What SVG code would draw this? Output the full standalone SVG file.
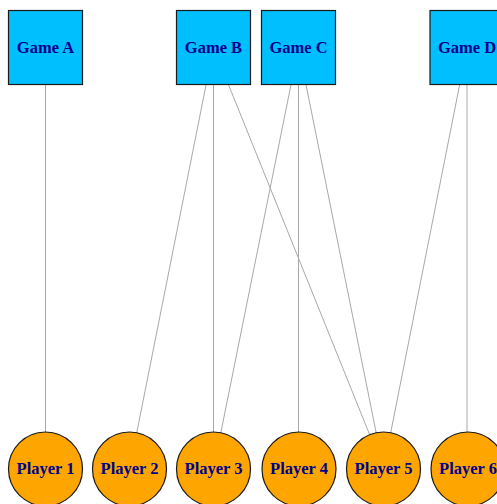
<svg xmlns="http://www.w3.org/2000/svg" width="497" height="504" viewBox="0 0 497 504">
<style>
.game rect{fill:#00bfff;stroke:#1a1a1a;stroke-width:1.2}
.player circle{fill:#ffa500;stroke:#1a1a1a;stroke-width:1.2}
text{font-family:"Liberation Serif",serif;font-weight:bold;font-size:16.5px;fill:#00008b;text-anchor:middle;dominant-baseline:central}
#edges line{stroke:#a8a8a8;stroke-width:1}
</style>
<rect width="497" height="504" fill="#fff"/>
<g id="edges">
<line x1="45.5" y1="47.5" x2="45.5" y2="469"/>
<line x1="213.5" y1="47.5" x2="129.5" y2="469"/>
<line x1="213.5" y1="47.5" x2="213.5" y2="469"/>
<line x1="213.5" y1="47.5" x2="383.5" y2="469"/>
<line x1="298.5" y1="47.5" x2="213.5" y2="469"/>
<line x1="298.5" y1="47.5" x2="298.5" y2="469"/>
<line x1="298.5" y1="47.5" x2="383.5" y2="469"/>
<line x1="467" y1="47.5" x2="383.5" y2="469"/>
<line x1="467" y1="47.5" x2="467" y2="469"/>
</g>
<g id="gameA" class="game"><rect x="8.5" y="10.5" width="74" height="74"/><text x="45.5" y="47.5">Game A</text></g>
<g id="gameB" class="game"><rect x="176.5" y="10.5" width="74" height="74"/><text x="213.5" y="47.5">Game B</text></g>
<g id="gameC" class="game"><rect x="261.5" y="10.5" width="74" height="74"/><text x="298.5" y="47.5">Game C</text></g>
<g id="gameD" class="game"><rect x="430" y="10.5" width="74" height="74"/><text x="467" y="47.5">Game D</text></g>
<g id="player1" class="player"><circle cx="45.5" cy="469" r="37"/><text x="45.5" y="468.5">Player 1</text></g>
<g id="player2" class="player"><circle cx="129.5" cy="469" r="37"/><text x="129.5" y="468.5">Player 2</text></g>
<g id="player3" class="player"><circle cx="213.5" cy="469" r="37"/><text x="213.5" y="468.5">Player 3</text></g>
<g id="player4" class="player"><circle cx="299" cy="469" r="37"/><text x="299" y="468.5">Player 4</text></g>
<g id="player5" class="player"><circle cx="383.5" cy="469" r="37"/><text x="383.5" y="468.5">Player 5</text></g>
<g id="player6" class="player"><circle cx="468" cy="469" r="37"/><text x="468" y="468.5">Player 6</text></g>
</svg>
